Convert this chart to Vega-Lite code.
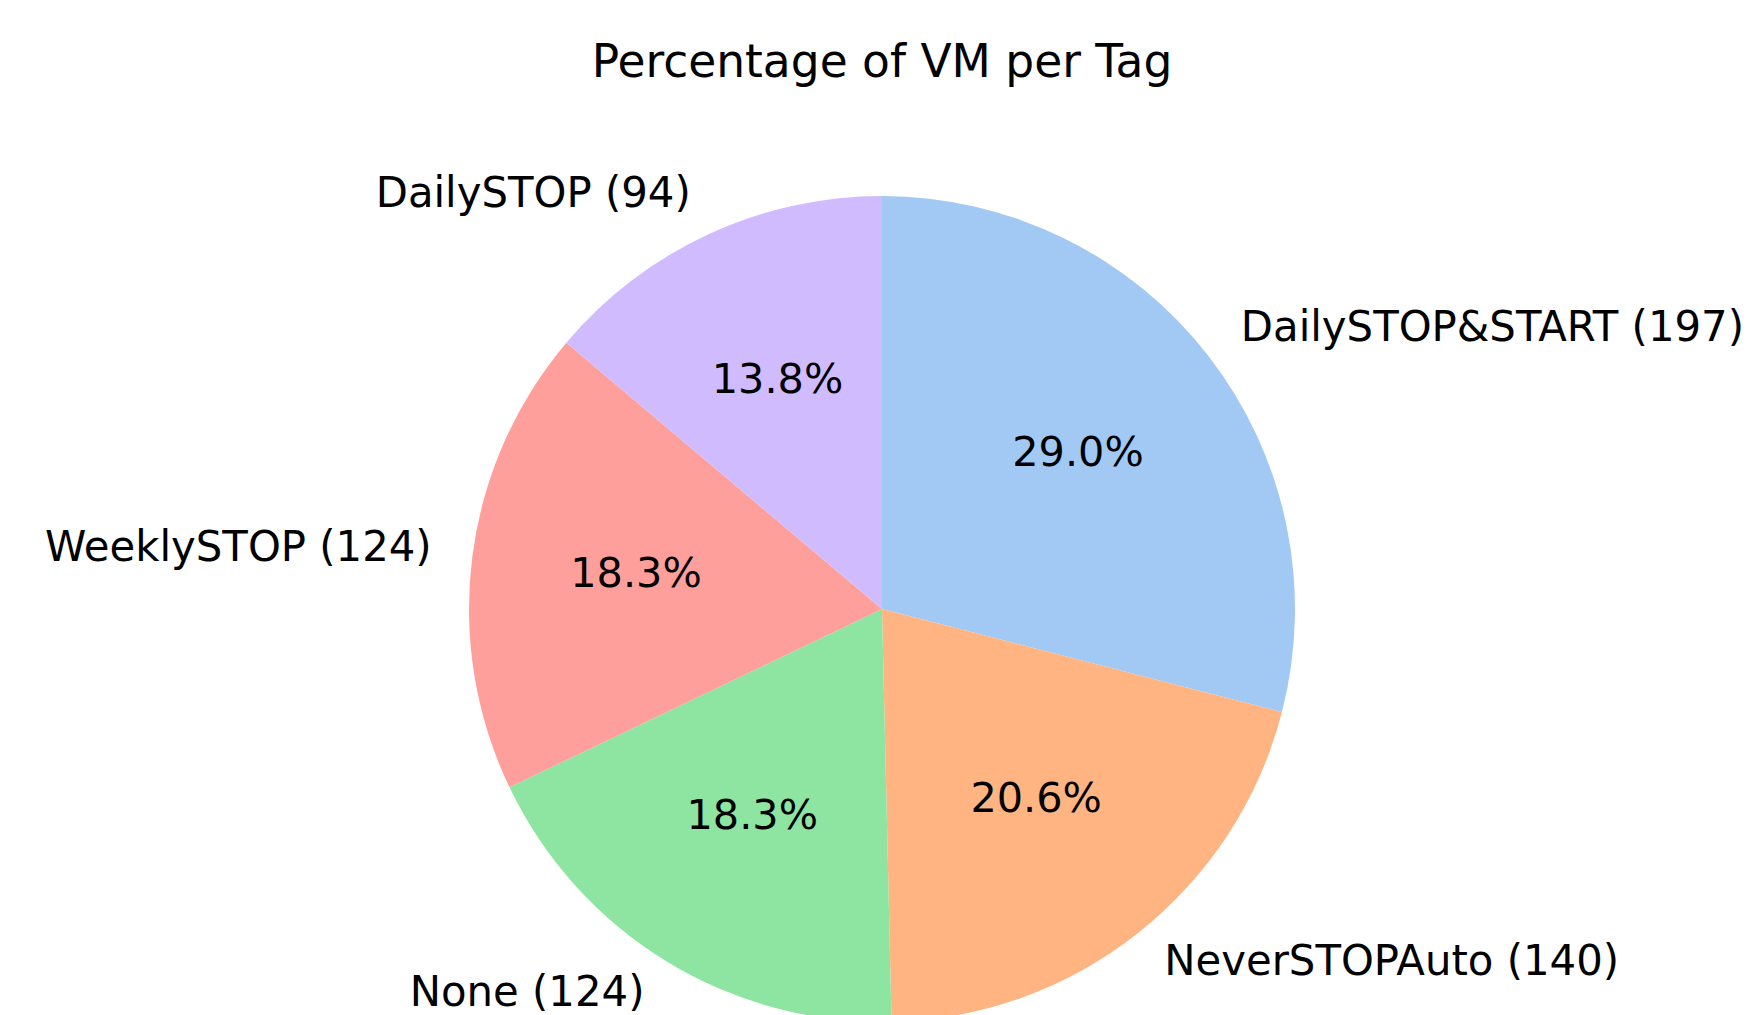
{
  "$schema": "https://vega.github.io/schema/vega-lite/v6.json",
  "autosize": {"type": "none"},
  "padding": {"left": 16, "top": 203, "right": 0, "bottom": 0},
  "width": 1732,
  "height": 812,
  "background": "white",
  "title": {
    "text": "Percentage of VM per Tag",
    "font": "DejaVu Sans",
    "fontSize": 45.5,
    "fontWeight": "normal",
    "color": "black",
    "anchor": "middle",
    "offset": 88
  },
  "data": {
    "values": [
      {"tag": "DailySTOP&START", "count": 197},
      {"tag": "NeverSTOPAuto", "count": 140},
      {"tag": "None", "count": 124},
      {"tag": "WeeklySTOP", "count": 124},
      {"tag": "DailySTOP", "count": 94}
    ]
  },
  "transform": [
    {"window": [{"op": "row_number", "as": "idx"}]},
    {"joinaggregate": [{"op": "sum", "field": "count", "as": "total"}]},
    {"calculate": "datum.count / datum.total", "as": "pct"},
    {"calculate": "datum.tag + ' (' + datum.count + ')'", "as": "label"}
  ],
  "encoding": {
    "theta": {"field": "count", "type": "quantitative", "stack": true},
    "order": {"field": "idx", "type": "quantitative"}
  },
  "layer": [
    {
      "mark": {"type": "arc", "outerRadius": 413, "stroke": null},
      "encoding": {
        "color": {
          "field": "tag",
          "type": "nominal",
          "legend": null,
          "scale": {
            "domain": ["DailySTOP&START", "NeverSTOPAuto", "None", "WeeklySTOP", "DailySTOP"],
            "range": ["#a1c9f4", "#ffb482", "#8de5a1", "#ff9f9b", "#d0bbff"]
          }
        }
      }
    },
    {
      "mark": {
        "type": "text",
        "radius": 454,
        "font": "DejaVu Sans",
        "fontSize": 41.8,
        "color": "black",
        "baseline": "middle",
        "dy": -3,
        "align": {"expr": "(datum.count_start + datum.count_end) / 2 < datum.total / 2 ? 'left' : 'right'"}
      },
      "encoding": {"text": {"field": "label", "type": "nominal"}}
    },
    {
      "mark": {
        "type": "text",
        "radius": 248,
        "font": "DejaVu Sans",
        "fontSize": 41.4,
        "color": "black",
        "baseline": "middle",
        "dy": -3,
        "align": "center"
      },
      "encoding": {"text": {"field": "pct", "type": "quantitative", "format": ".1%"}}
    }
  ]
}
